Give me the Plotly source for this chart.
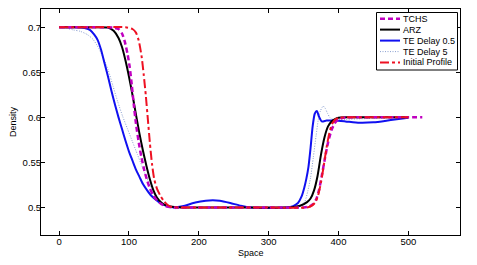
import plotly.graph_objects as go

# ---- data ----
tchs_x = [0, 60, 78, 85, 90, 94, 98, 101, 104, 107, 110, 114, 118, 122, 126, 130, 135, 140, 146, 152, 160,
          170, 200, 250, 300, 350, 358, 364, 368, 372, 376, 380, 385, 390, 395, 400, 410, 450, 500, 520]
tchs_y = [0.7, 0.7, 0.6995, 0.698, 0.693, 0.684, 0.670, 0.656, 0.636, 0.613, 0.593, 0.572, 0.555, 0.541,
          0.530, 0.521, 0.513, 0.508, 0.504, 0.5015, 0.5003,
          0.5, 0.5, 0.5, 0.5, 0.5, 0.501, 0.504, 0.509, 0.519, 0.535, 0.552, 0.572, 0.586, 0.594, 0.598,
          0.5998, 0.6, 0.6, 0.6]

arz_x = [0, 50, 70, 78, 85, 90, 95, 100, 105, 110, 115, 120, 125, 130, 135, 140, 147, 155, 165, 180, 200,
         250, 300, 330, 345, 355, 360, 365, 370, 375, 380, 385, 390, 395, 400, 410, 450, 500]
arz_y = [0.7, 0.7, 0.6995, 0.696, 0.688, 0.678, 0.663, 0.645, 0.625, 0.603, 0.582, 0.563, 0.546, 0.531,
         0.519, 0.511, 0.505, 0.5018, 0.5005, 0.5, 0.5,
         0.5, 0.5, 0.5, 0.502, 0.506, 0.510, 0.519, 0.535, 0.559, 0.578, 0.590, 0.5955, 0.598, 0.5995,
         0.6, 0.6, 0.6]

te05_x = [0, 25, 35, 44, 50, 55, 60, 65, 70, 75, 80, 85, 90, 95, 100, 105, 110, 115, 120, 126, 132, 138,
          144, 150, 156, 163, 170, 180, 195, 210, 220, 230, 245, 260, 275, 300, 325, 335, 342, 347, 351,
          354, 357, 360, 363, 366, 369, 372, 376, 383, 395, 410, 430, 450, 475, 500]
te05_y = [0.7, 0.7, 0.6993, 0.697, 0.692, 0.686, 0.675, 0.660, 0.645, 0.629, 0.614, 0.600, 0.587, 0.574,
          0.562, 0.552, 0.542, 0.534, 0.526, 0.519, 0.513, 0.509, 0.5055, 0.503, 0.5012, 0.5003, 0.5005,
          0.502, 0.5055, 0.5075, 0.508, 0.5075, 0.505, 0.502, 0.5, 0.4995, 0.5, 0.5015, 0.505, 0.512,
          0.522, 0.532, 0.545, 0.566, 0.590, 0.604, 0.607, 0.601, 0.5955, 0.5965, 0.5965, 0.5955, 0.594,
          0.5945, 0.597, 0.5995]

te5_x = [0, 10, 20, 30, 40, 48, 55, 62, 70, 77, 84, 91, 98, 105, 112, 119, 126, 133, 140, 148, 156, 165,
         180, 200, 250, 300, 340, 346, 352, 356, 360, 364, 368, 371, 374, 378, 381, 384, 388, 393, 400,
         450, 500]
te5_y = [0.7, 0.699, 0.697, 0.6955, 0.692, 0.687, 0.679, 0.668, 0.653, 0.635, 0.617, 0.601, 0.587, 0.573,
         0.559, 0.545, 0.532, 0.520, 0.511, 0.5045, 0.5008, 0.4988, 0.4995, 0.5, 0.5, 0.5, 0.5, 0.502,
         0.507, 0.518, 0.533, 0.556, 0.580, 0.597, 0.607, 0.6125, 0.610, 0.605, 0.5995, 0.5975, 0.5975,
         0.599, 0.6]

init_x = [0, 50, 95, 105, 110, 114, 118, 121, 124, 127, 130, 133, 136, 140, 145, 150, 155, 160, 170, 200,
          250, 300, 355, 362, 367, 371, 375, 379, 383, 387, 391, 396, 402, 420, 500]
init_y = [0.7, 0.7, 0.7, 0.698, 0.694, 0.685, 0.668, 0.648, 0.625, 0.598, 0.571, 0.548, 0.532, 0.521,
          0.513, 0.507, 0.503, 0.5008, 0.5, 0.5,
          0.5, 0.5, 0.5, 0.502, 0.506, 0.514, 0.528, 0.547, 0.567, 0.583, 0.593, 0.598, 0.5997, 0.6, 0.6]

names = ["TCHS", "ARZ", "TE Delay 0.5", "TE Delay 5", "Initial Profile"]
colors = ["#c000c0", "black", "#1010f0", "#8a9fd0", "#ee1122"]
dashes = ["5px,3px", "solid", "solid", "1px,1.5px", "dashdot"]
widths = [2.5, 2, 2, 1, 2]

FONT = "Liberation Sans, Arial, sans-serif"
W, H = 477, 265
ML, MR, MT, MB = 41, 17, 9, 30
PW, PH = W - ML - MR, H - MT - MB


def px_to_paper_x(px):
    return (px - ML) / PW


def px_to_paper_y(py):
    return 1 - (py - MT) / PH


fig = go.Figure()
series = [(tchs_x, tchs_y), (arz_x, arz_y), (te05_x, te05_y), (te5_x, te5_y), (init_x, init_y)]
order = [3, 2, 1, 0, 4]
for i in order:
    xs, ys = series[i]
    fig.add_trace(go.Scatter(x=xs, y=ys, name=names[i], mode="lines", showlegend=False,
                             line=dict(color=colors[i], width=widths[i], dash=dashes[i],
                                       shape="spline", smoothing=0.6)))

# custom compact legend (MATLAB-style legend box)
shapes = [dict(type="rect", xref="paper", yref="paper",
               x0=px_to_paper_x(376.5), x1=px_to_paper_x(457.5),
               y0=px_to_paper_y(70), y1=px_to_paper_y(12.5),
               line=dict(color="black", width=1), fillcolor="white", layer="above")]
annotations = []
row_y = [18.8, 29.6, 40.6, 51.6, 62.4]
for i, name in enumerate(names):
    yy = px_to_paper_y(row_y[i])
    shapes.append(dict(type="line", xref="paper", yref="paper",
                       x0=px_to_paper_x(380), x1=px_to_paper_x(400), y0=yy, y1=yy,
                       line=dict(color=colors[i], width=widths[i], dash=dashes[i]), layer="above"))
    annotations.append(dict(text=name, xref="paper", yref="paper", x=px_to_paper_x(401), y=yy,
                            xanchor="left", yanchor="middle", showarrow=False,
                            font=dict(family=FONT, size=9, color="black")))

annotations.append(dict(text="Space", xref="paper", yref="paper", x=0.5, y=px_to_paper_y(253),
                        xanchor="center", yanchor="middle", showarrow=False,
                        font=dict(family=FONT, size=9, color="black")))
annotations.append(dict(text="Density", xref="paper", yref="paper", x=px_to_paper_x(13), y=0.5,
                        xanchor="center", yanchor="middle", showarrow=False, textangle=-90,
                        font=dict(family=FONT, size=9, color="black")))

axis_common = dict(showline=True, linecolor="black", linewidth=1, mirror="ticks",
                   ticks="inside", ticklen=4, tickcolor="black", showgrid=False, zeroline=False,
                   automargin=False, tickfont=dict(family=FONT, size=9.5, color="black"))

fig.update_layout(
    width=W, height=H,
    margin=dict(l=ML, r=MR, t=MT, b=MB),
    paper_bgcolor="white", plot_bgcolor="white",
    font=dict(family=FONT, size=9.5, color="black"),
    xaxis=dict(range=[-26, 574], tickvals=[0, 100, 200, 300, 400, 500],
               ticklabelstandoff=-2, **axis_common),
    yaxis=dict(range=[0.4695, 0.7202], tickvals=[0.5, 0.55, 0.6, 0.65, 0.7],
               ticktext=["0.5", "0.55", "0.6", "0.65", "0.7"], ticklabelstandoff=-3, **axis_common),
    shapes=shapes,
    annotations=annotations,
    showlegend=False,
)

fig.write_html("out.html", config={"displayModeBar": False},
               post_script="document.body.style.margin='0';")
